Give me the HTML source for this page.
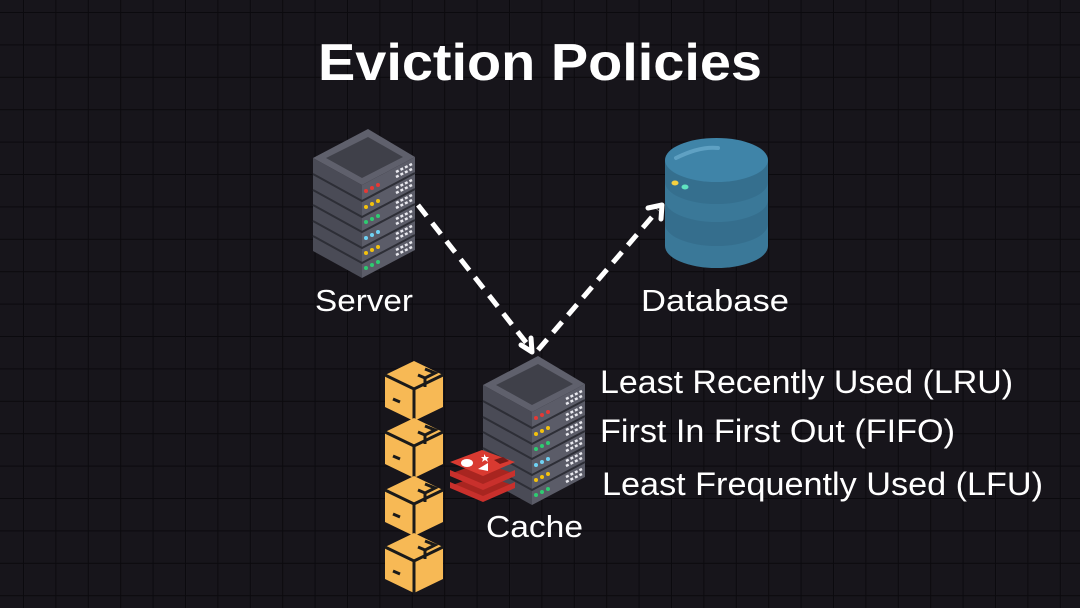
<!DOCTYPE html>
<html><head><meta charset="utf-8"><style>
html,body{margin:0;padding:0;background:#17151b;}
svg{display:block}
text{font-family:"Liberation Sans",sans-serif;fill:#fff}
</style></head><body>
<svg width="1080" height="608" viewBox="0 0 1080 608" xmlns="http://www.w3.org/2000/svg">
<defs>
<pattern id="grid" x="23" y="12" width="32.4" height="32.4" patternUnits="userSpaceOnUse">
<path d="M0 0H32.4M0 0V32.4" stroke="#0b0a0e" stroke-width="2" fill="none"/>
</pattern>
<g id="srv">
  <polygon points="313,158 362,185 362,278 313,251" fill="#4a4b56"/>
  <polygon points="362,185 415,157 415,250 362,278" fill="#5b5c68"/>
  <polygon points="368,129 415,157 362,185 313,158" fill="#5f606c"/>
  <polygon points="368,137 403,157 362,178 326,158" fill="#3f4049"/>
  <g stroke="#2d2e36" stroke-width="2" fill="none">
    <path d="M313,174 L362,201 L415,173"/>
    <path d="M313,190 L362,217 L415,189"/>
    <path d="M313,205 L362,232 L415,204"/>
    <path d="M313,221 L362,248 L415,220"/>
    <path d="M313,236 L362,263 L415,235"/>
  </g>
  <g>
    <circle cx="366" cy="191" r="2" fill="#e53935"/><circle cx="372" cy="188" r="2" fill="#e53935"/><circle cx="378" cy="185" r="2" fill="#e53935"/>
    <circle cx="366" cy="207" r="2" fill="#f4c20d"/><circle cx="372" cy="204" r="2" fill="#f4c20d"/><circle cx="378" cy="201" r="2" fill="#f4c20d"/>
    <circle cx="366" cy="222" r="2" fill="#2ecc71"/><circle cx="372" cy="219" r="2" fill="#2ecc71"/><circle cx="378" cy="216" r="2" fill="#2ecc71"/>
    <circle cx="366" cy="238" r="2" fill="#6fd3f5"/><circle cx="372" cy="235" r="2" fill="#6fd3f5"/><circle cx="378" cy="232" r="2" fill="#6fd3f5"/>
    <circle cx="366" cy="253" r="2" fill="#f4c20d"/><circle cx="372" cy="250" r="2" fill="#f4c20d"/><circle cx="378" cy="247" r="2" fill="#f4c20d"/>
    <circle cx="366" cy="268" r="2" fill="#2ecc71"/><circle cx="372" cy="265" r="2" fill="#2ecc71"/><circle cx="378" cy="262" r="2" fill="#2ecc71"/>
  </g>
  <path d="M396,172 L412,164 M396,177 L412,169 M396,188 L412,180 M396,193 L412,185 M396,203 L412,195 M396,208 L412,200 M396,219 L412,211 M396,224 L412,216 M396,234 L412,226 M396,239 L412,231 M396,250 L412,242 M396,255 L412,247" stroke="#e8e8ee" stroke-width="2.5" stroke-dasharray="3,2" fill="none"/>
</g>
<g id="box">
  <polygon points="0,14 29,0 58,14 58,46 29,60 0,46" fill="#f7b955"/>
  <path d="M0,14 L29,28 L58,14 M29,28 V60" stroke="#1a1a1a" stroke-width="3" fill="none"/>
  <path d="M40,8 L50,12 L40,17 V26 M40,17 L33,14" stroke="#1a1a1a" stroke-width="3" fill="none"/>
  <path d="M8,38 L15,41" stroke="#1a1a1a" stroke-width="3"/>
</g>
</defs>
<rect width="1080" height="608" fill="#17151b"/>
<rect width="1080" height="608" fill="url(#grid)"/>

<text x="540" y="80" text-anchor="middle" font-size="52" font-weight="bold" textLength="444" lengthAdjust="spacingAndGlyphs">Eviction Policies</text>

<use href="#srv"/>
<use href="#srv" transform="translate(170,227)"/>

<g>
  <path d="M665,160 V246 A51.5,22 0 0 0 768,246 V160 Z" fill="#3a7898"/>
  <path d="M665,200 A51.5,22 0 0 0 768,200 V224 A51.5,22 0 0 1 665,224 Z" fill="#356e8d"/>
  <path d="M665,160 V182 A51.5,22 0 0 0 768,182 V160 Z" fill="#356f8e"/>
  <ellipse cx="716.5" cy="160" rx="51.5" ry="22" fill="#3f84a8"/>
  <path d="M676,158 Q700,146 718,148" stroke="#5fa1c3" stroke-width="4" fill="none" stroke-linecap="round"/>
  <ellipse cx="675" cy="183" rx="3.5" ry="2.5" fill="#f4d03f"/>
  <ellipse cx="685" cy="187" rx="3.5" ry="2.5" fill="#5fe3c0"/>
</g>

<g stroke="#fff" stroke-width="5" fill="none">
  <path d="M418,205 L528,345" stroke-dasharray="14,9"/>
  <path d="M521,345 L532,352 L531,338" stroke-linejoin="round" stroke-linecap="round"/>
  <path d="M538,350 L658,210" stroke-dasharray="14,9"/>
  <path d="M648,208 L662,205 L661,219" stroke-linejoin="round" stroke-linecap="round"/>
</g>

<text x="315" y="311" font-size="31" textLength="98" lengthAdjust="spacingAndGlyphs">Server</text>
<text x="641" y="311" font-size="31" textLength="148" lengthAdjust="spacingAndGlyphs">Database</text>
<text x="486" y="537" font-size="31" textLength="97" lengthAdjust="spacingAndGlyphs">Cache</text>

<use href="#box" transform="translate(385,361)"/>
<use href="#box" transform="translate(385,418)"/>
<use href="#box" transform="translate(385,476)"/>
<use href="#box" transform="translate(385,533)"/>

<g>
  <polygon points="450,486 482,474 515,486 483,500" fill="#a82520"/>
  <polygon points="450,482 483,496 515,482 515,488 483,502 450,488" fill="#c9302c"/>
  <polygon points="450,474 482,462 515,474 483,488" fill="#a82520"/>
  <polygon points="450,470 483,484 515,470 515,476 483,490 450,476" fill="#c9302c"/>
  <polygon points="450,462 482,450 515,462 483,476" fill="#d93a31"/>
  <ellipse cx="467" cy="463" rx="6" ry="4" fill="#fff"/>
  <polygon points="478,469 488,463 488,471" fill="#fff"/>
  <path d="M484,454 l2,3 3,0 -2,2 1,3 -3,-2 -3,2 1,-3 -2,-2 3,0z" fill="#fff"/>
  <polygon points="494,460 503,457 509,461 500,464" fill="#7a1a17"/>
</g>

<text x="600" y="393" font-size="32" textLength="413" lengthAdjust="spacingAndGlyphs">Least Recently Used (LRU)</text>
<text x="600" y="442" font-size="32" textLength="355" lengthAdjust="spacingAndGlyphs">First In First Out (FIFO)</text>
<text x="602" y="495" font-size="32" textLength="441" lengthAdjust="spacingAndGlyphs">Least Frequently Used (LFU)</text>
</svg>
</body></html>
